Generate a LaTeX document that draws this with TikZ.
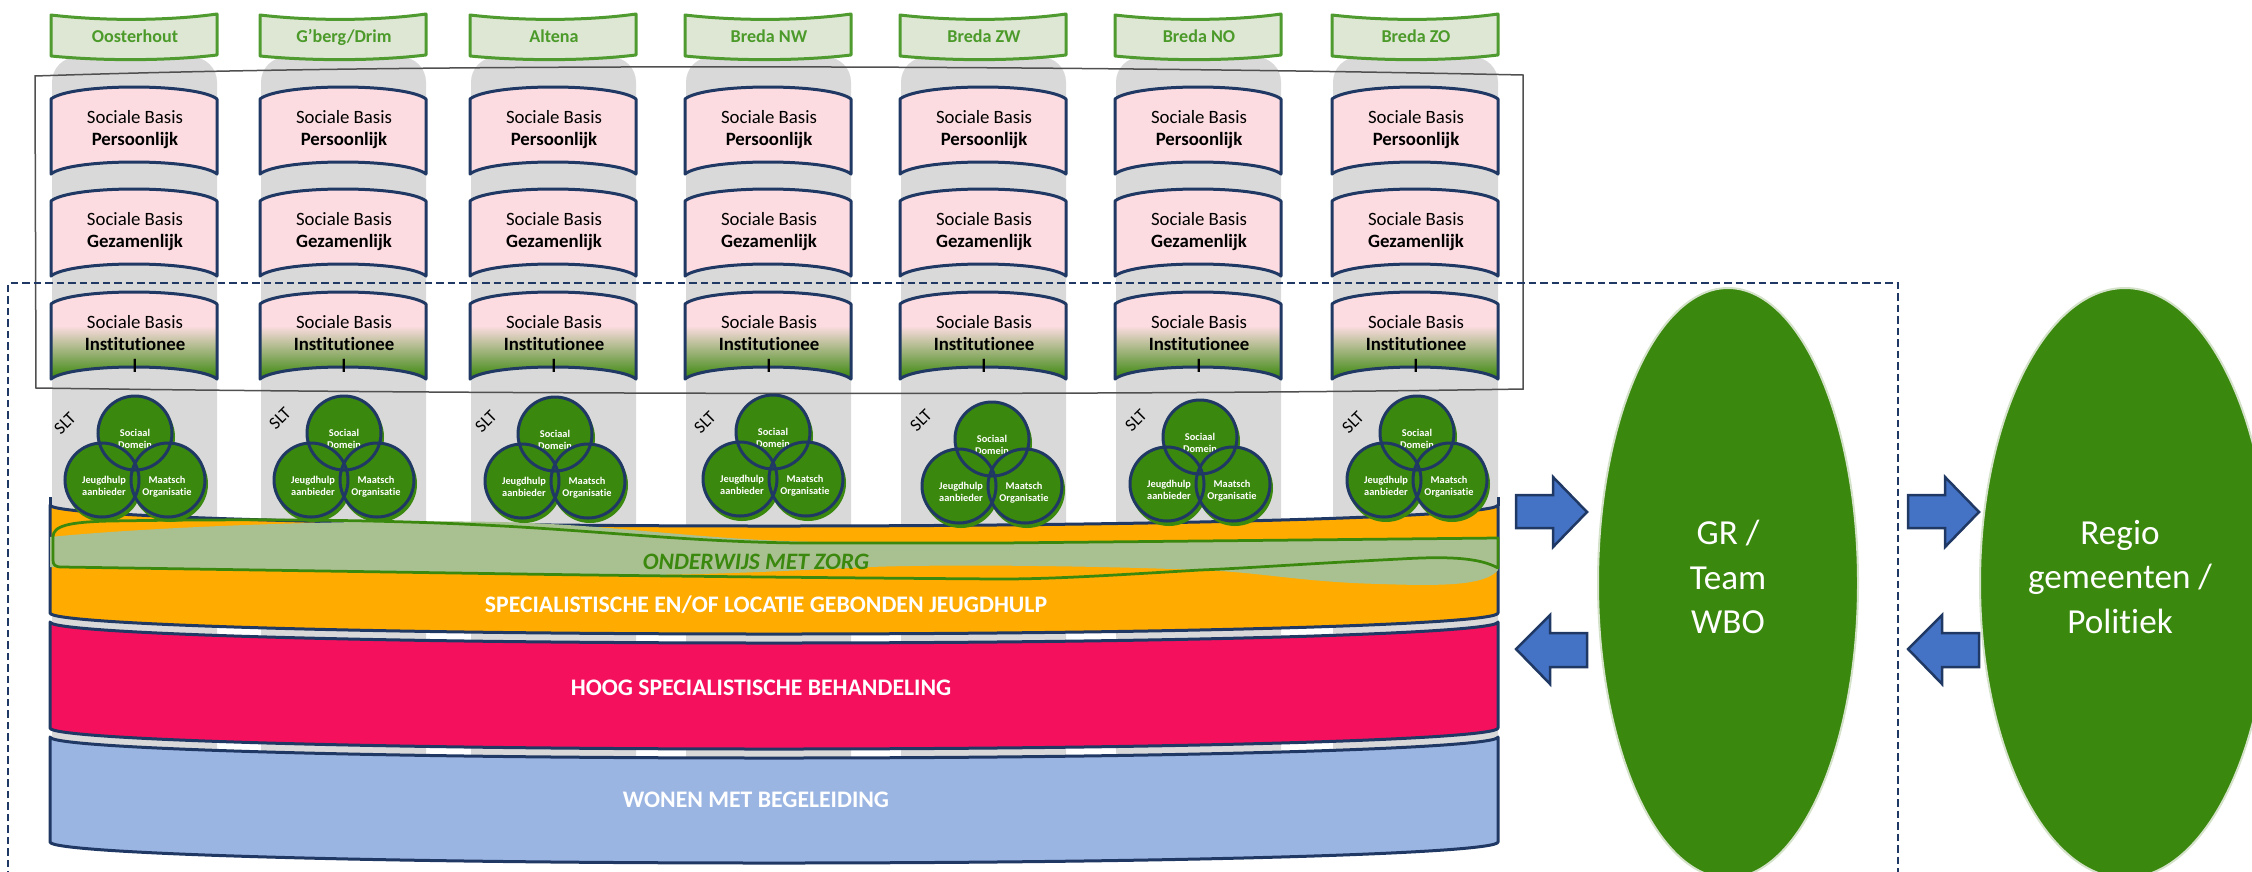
\documentclass[tikz,border=0pt]{standalone}
\usepackage{fontspec}
\setmainfont{Carlito}[Ligatures={NoCommon}]

\definecolor{navyline}{HTML}{203864}
\definecolor{wbogreen}{HTML}{3B880E}
\definecolor{sagefill}{HTML}{A9C191}
\definecolor{tabfill}{HTML}{DDE7D4}
\definecolor{tabline}{HTML}{4F9B2F}
\definecolor{tabtext}{HTML}{4C9A2A}
\definecolor{pinkbox}{HTML}{FCDCE0}
\definecolor{colgray}{HTML}{D9D9D9}
\definecolor{bandorange}{HTML}{FFAB00}
\definecolor{bandpink}{HTML}{F5105E}
\definecolor{bandblue}{HTML}{9BB5E3}
\definecolor{arrowblue}{HTML}{4472C4}
\definecolor{ellipseedge}{HTML}{D4E2CA}
\definecolor{framegray}{HTML}{505050}

\tikzset{
  bandline/.style={draw=navyline, line width=.6mm, line join=round},
  boxline/.style={draw=navyline, line width=.6mm, line join=round},
  tabshape/.style={fill=tabfill, draw=tabline, line width=.6mm, line join=round},
  boxtext/.style={align=center, anchor=north, inner sep=0pt, text=black, font=\fontsize{10.7pt}{12.5pt}\selectfont},
  tabname/.style={anchor=base, inner sep=0pt, text=tabtext, font=\bfseries\fontsize{10.3pt}{12pt}\selectfont},
  venntext/.style={align=center, inner sep=0pt, text=white, font=\bfseries\fontsize{5.9pt}{6.8pt}\selectfont},
  vennline/.style={draw=navyline, line width=.6mm},
  slttext/.style={rotate=45, inner sep=0pt, font=\fontsize{10pt}{12pt}\selectfont},
  bandtext/.style={anchor=base, inner sep=0pt, text=white, font=\bfseries\fontsize{13.5pt}{16pt}\selectfont},
  zorgline/.style={draw=wbogreen, line width=.55mm, line join=round},
  zorgtext/.style={anchor=base, inner sep=0pt, text=wbogreen, font=\bfseries\itshape\fontsize{13.4pt}{16pt}\selectfont},
  bigtext/.style={align=center, inner sep=0pt, text=white, font=\fontsize{20pt}{25.3pt}\selectfont},
  blockarrow/.style={fill=arrowblue, draw=navyline, line width=.5mm, line join=miter},
}

% vorm van een sociale-basis blok: linksboven (#1,#2)
\newcommand{\sbboxpath}[2]{(#1,#2) .. controls (#1+20,#2-16) and (#1+146,#2-16) .. (#1+166,#2) -- (#1+166,#2+75) .. controls (#1+146,#2+59) and (#1+20,#2+59) .. (#1,#2+75) -- cycle}

\begin{document}
\begin{tikzpicture}[x=.2mm,y=-.2mm]
\useasboundingbox (0,0) rectangle (2252,871);

  % kolommen per gemeente
\foreach \xl/\lab [count=\i] in {52/Oosterhout, 261/G’berg\slash Drim, 471/Altena, 686/Breda NW, 901/Breda ZW, 1116/Breda NO, 1333/Breda ZO}{
  \pgfmathsetmacro\cx{\xl+83}
  \pgfmathsetmacro\bl{\xl-1}
  \fill[colgray, rounded corners=5mm] (\xl,835) -- (\xl,57) -- (\xl+165,57) -- (\xl+165,835) -- cycle;
  % label bovenaan
  \filldraw[tabshape] (\xl-1,15) .. controls (\xl+50,21) and (\xl+115,21) .. (\xl+165,14) -- (\xl+165,55) .. controls (\xl+115,61) and (\xl+50,61) .. (\xl-1,56) -- cycle;
  \node[tabname] (tab\i) at (\cx,42) {\lab};
  % sociale basis: persoonlijk en gezamenlijk
  \filldraw[boxline, fill=pinkbox] \sbboxpath{\bl}{99};
  \node[boxtext] (sbp\i) at (\cx,110) {Sociale Basis\\\textbf{Persoonlijk}};
  \filldraw[boxline, fill=pinkbox] \sbboxpath{\bl}{201};
  \node[boxtext] (sbg\i) at (\cx,212) {Sociale Basis\\\textbf{Gezamenlijk}};
  % institutioneel (verloop naar groen)
  \begin{scope}
    \clip \sbboxpath{\bl}{304};
    \fill[pinkbox] (\bl,280) rectangle (\bl+166,390);
    \shade[top color=pinkbox, bottom color=wbogreen] (\bl,326) rectangle (\bl+166,378);
  \end{scope}
  \draw[boxline] \sbboxpath{\bl}{304};
  \node[boxtext] (sbi\i) at (\cx,315) {Sociale Basis\\\textbf{Institutionee}\\\textbf{l}};
}

  % kaders
\draw[framegray, line width=.3mm] (35,76) .. controls (450,62) and (1100,66) .. (1523,75) -- (1523,389) .. controls (1100,396) and (450,394) .. (36,388) -- cycle;
\draw[navyline, line width=.5mm, dash pattern=on 1.5mm off .8mm] (8,890) -- (8,283) -- (1898,283) -- (1898,890);

  % lagen van de cilinder
\filldraw[bandline, fill=bandorange] (50,505) -- (50,613) arc[start angle=180, end angle=0, x radius=724, y radius=21] -- (1498,505) arc[start angle=0, end angle=180, x radius=724, y radius=21] -- cycle;
\draw[bandline] (50,497) -- (50,506) (1498,497) -- (1498,506);
\filldraw[bandline, fill=bandpink] (50,622) -- (50,728) arc[start angle=180, end angle=0, x radius=724, y radius=21] -- (1498,622) arc[start angle=0, end angle=180, x radius=724, y radius=21] -- cycle;
\filldraw[bandline, fill=bandblue] (50,737) -- (50,842) arc[start angle=180, end angle=0, x radius=724, y radius=21] -- (1498,737) arc[start angle=0, end angle=180, x radius=724, y radius=21] -- cycle;

  % onderwijs met zorg
\fill[sagefill] (50,537) .. controls (150,527) and (350,519) .. (500,522) .. controls (620,525) and (700,540) .. (820,542) -- (1000,543) -- (1498,538) -- (1498,570) .. controls (1485,586) and (1440,586) .. (1380,584) .. controls (1300,582) and (1260,572) .. (1200,570) .. controls (1100,566) and (950,564) .. (870,567) .. controls (800,570) and (700,576) .. (600,575) -- (50,567) -- cycle;
\draw[zorgline] (53,560) -- (53,537) .. controls (53,526) and (68,522) .. (110,521) .. controls (300,518) and (420,521) .. (520,527) .. controls (620,533) and (700,542) .. (800,543) -- (1000,543) -- (1498,538) -- (1498,568) .. controls (1480,558) and (1450,556) .. (1400,559) .. controls (1300,564) and (1250,568) .. (1200,570) .. controls (1100,576) and (1050,579) .. (1000,579) .. controls (850,578) and (650,576) .. (520,574) -- (62,567) .. controls (55,567) and (53,565) .. (53,560) -- cycle;
\node[zorgtext] (zorg) at (756,569) {ONDERWIJS MET ZORG};

\node[bandtext] (spec) at (766,612) {SPECIALISTISCHE EN/OF LOCATIE GEBONDEN JEUGDHULP};
\node[bandtext] (hoog) at (761,695) {HOOG SPECIALISTISCHE BEHANDELING};
\node[bandtext] (wonen) at (756,807) {WONEN MET BEGELEIDING};

  % SLT per kolom
\foreach \vx/\yc/\sx/\sy [count=\i] in {135/433/65/423, 344/433/280/418, 555/434/486/421, 773/432/705/422, 992/439/921/420, 1200/437/1136/420, 1417/433/1353/422}{
  \fill[wbogreen] (\vx+2,\yc+4) circle[radius=38] (\vx-31,\yc+51) circle[radius=38] (\vx+35,\yc+51) circle[radius=38];
  \fill[wbogreen] (\vx,\yc) circle[radius=37] (\vx-33,\yc+47) circle[radius=37] (\vx+33,\yc+47) circle[radius=37];
  \node[venntext] (sd\i) at (\vx,\yc+6) {Sociaal\\Domein};
  \node[venntext] (jh\i) at (\vx-31,\yc+53) {Jeugdhulp\\aanbieder};
  \node[venntext] (mo\i) at (\vx+32,\yc+54) {Maatsch\\Organisatie};
  \draw[vennline] (\vx,\yc) circle[radius=37] (\vx-33,\yc+47) circle[radius=37] (\vx+33,\yc+47) circle[radius=37];
  \node[slttext] (slt\i) at (\sx,\sy) {SLT};
}

  % GR / Team WBO en regio
\filldraw[fill=wbogreen, draw=ellipseedge, line width=.4mm] (1728,583) ellipse[x radius=130, y radius=295];
\node[bigtext] (gr) at (1728,577) {GR /\\Team\\WBO};
\filldraw[fill=wbogreen, draw=ellipseedge, line width=.4mm] (2125,583) ellipse[x radius=145, y radius=295];
\node[bigtext] (regio) at (2120,577) {Regio\\gemeenten /\\Politiek};

  % blokpijlen heen en terug
\foreach \dx in {0,392}{
  \filldraw[blockarrow] (1516+\dx,495) -- (1553+\dx,495) -- (1553+\dx,477) -- (1587+\dx,512) -- (1553+\dx,547) -- (1553+\dx,528) -- (1516+\dx,528) -- cycle;
  \filldraw[blockarrow] (1587+\dx,633) -- (1550+\dx,633) -- (1550+\dx,615) -- (1516+\dx,649) -- (1550+\dx,684) -- (1550+\dx,667) -- (1587+\dx,667) -- cycle;
}
\end{tikzpicture}
\end{document}
